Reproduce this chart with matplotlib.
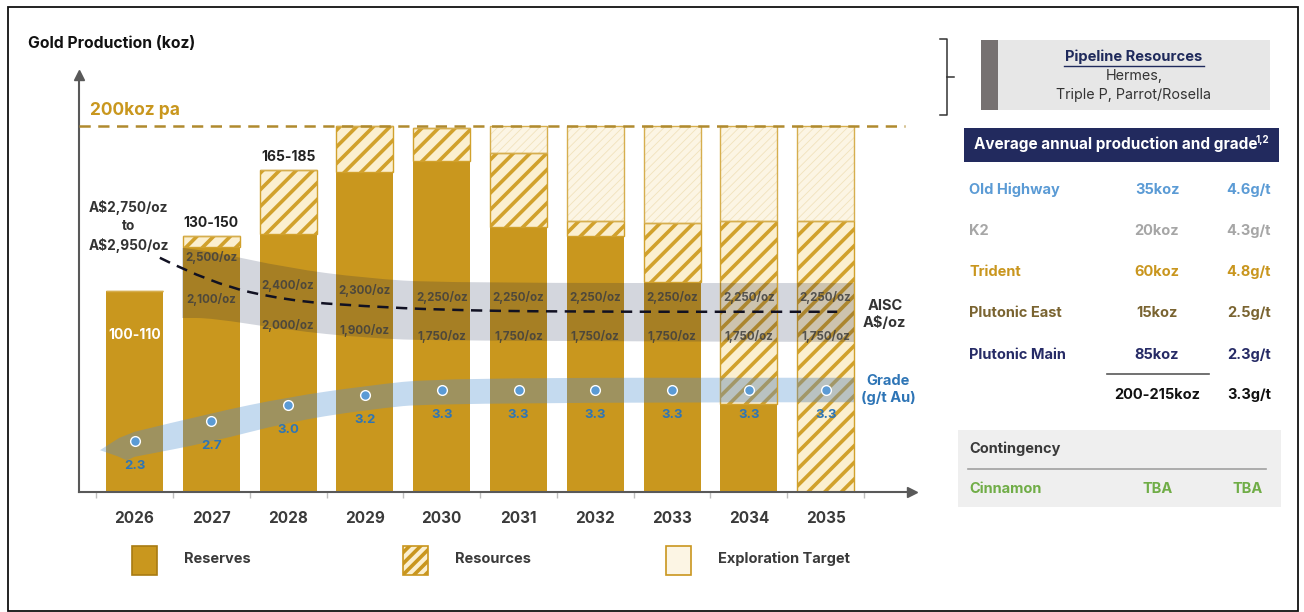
import matplotlib
matplotlib.use("Agg")
import matplotlib.pyplot as plt
from matplotlib.patches import Rectangle, PathPatch
from matplotlib.path import Path
from matplotlib.lines import Line2D

plt.rcParams['font.family'] = ['Inter', 'DejaVu Sans']
plt.rcParams['hatch.linewidth'] = 2.6

W, H = 1304, 612

# ---- data ----
years = ['2026', '2027', '2028', '2029', '2030', '2031', '2032', '2033', '2034', '2035']
reserves = [110, 134, 141, 175, 181, 145, 140, 115, 48, 0]
resources = [0, 6, 35, 25, 18, 40, 8, 32, 100, 148]
exploration = [0, 0, 0, 0, 0, 15, 52, 53, 52, 52]
bar_labels = ['100-110', '130-150', '165-185']
target_koz = 200

grade = [2.3, 2.7, 3.0, 3.2, 3.3, 3.3, 3.3, 3.3, 3.3, 3.3]

aisc_high = ['2,500/oz', '2,400/oz', '2,300/oz', '2,250/oz', '2,250/oz',
             '2,250/oz', '2,250/oz', '2,250/oz', '2,250/oz']
aisc_low = ['2,100/oz', '2,000/oz', '1,900/oz', '1,750/oz', '1,750/oz',
            '1,750/oz', '1,750/oz', '1,750/oz', '1,750/oz']
aisc_high_y = [128, 113, 110, 106.5, 106.5, 106.5, 106.5, 106.5, 106.5]
aisc_low_y = [105, 91, 88.5, 85, 85, 85, 85, 85, 85]

# AISC band (koz units) and dashed AISC trend
band_x = [0.62, 1.0, 2.0, 3.0, 4.0, 9.38]
band_top = [133.5, 131.5, 122.4, 116.9, 114.2, 114.2]
band_bot = [95.1, 95.1, 88.5, 84.2, 82.5, 82.0]
aisc_line_x = [0.33, 1.0, 2.0, 3.0, 4.0, 5.5, 9.15]
aisc_line_y = [128, 114, 104.5, 101.5, 99.5, 98.5, 98.5]

# grade band (g/t units)
gband_x = [0.0, 1.0, 2.0, 3.0, 4.0, 9.38]
gband_top = [2.48, 2.85, 3.16, 3.38, 3.54, 3.54]
gband_bot = [1.99, 2.28, 2.67, 2.91, 3.06, 3.06]

mines = ['Old Highway', 'K2', 'Trident', 'Plutonic East', 'Plutonic Main']
mine_koz = ['35koz', '20koz', '60koz', '15koz', '85koz']
mine_grade = ['4.6g/t', '4.3g/t', '4.8g/t', '2.5g/t', '2.3g/t']
mine_colors = ['#5B9BD5', '#A6A6A6', '#C9961E', '#7A6431', '#262B66']
total_koz, total_grade = '200-215koz', '3.3g/t'

GOLD = '#C9971E'
CREAM = '#FBEFCF'
PALE = '#FCF5E4'
DARK = '#3A3A3A'
BLUE = '#2E75B6'


def fx(x):
    return x / W


def fy(y):
    return 1 - y / H


def smooth(pts):
    verts = [pts[0]]
    codes = [Path.MOVETO]
    for i in range(1, len(pts) - 1):
        mid = ((pts[i][0] + pts[i + 1][0]) / 2, (pts[i][1] + pts[i + 1][1]) / 2)
        verts += [pts[i], mid]
        codes += [Path.CURVE3, Path.CURVE3]
    verts.append(pts[-1])
    codes.append(Path.LINETO)
    return verts, codes


def band_path(xs, top, bot, head=None):
    vt, ct = smooth(list(zip(xs, top)))
    vb, cb = smooth(list(zip(xs[::-1], bot[::-1])))
    cb[0] = Path.LINETO
    verts = vt + vb
    codes = ct + cb
    if head is not None:
        for p in head:
            verts.append(p)
            codes.append(Path.LINETO)
    verts.append(verts[0])
    codes.append(Path.CLOSEPOLY)
    return Path(verts, codes)


fig = plt.figure(figsize=(W / 100, H / 100), dpi=100)
ax = fig.add_axes([fx(79), fy(492), fx(912) - fx(79), fy(75) - fy(492)])
ax.set_xlim(-0.723, 10.124)
ax.set_ylim(0, 227.9)
ax2 = ax.twinx()
ax2.set_ylim(1.30, 9.476)
ax2.axis('off')

x = list(range(len(years)))
bw = 0.742
res_bottom = reserves
exp_bottom = [r + s for r, s in zip(reserves, resources)]
totals = [a + b for a, b in zip(exp_bottom, exploration)]

ax.bar(x, reserves, bw, color=GOLD, linewidth=0, zorder=2)
ax.bar(x, resources, bw, bottom=res_bottom, color=CREAM, edgecolor='#D1A12C',
       hatch='//', linewidth=0, zorder=2)
ax.bar(x, resources, bw, bottom=res_bottom, fill=False, edgecolor='#D1A12C',
       linewidth=1.0, zorder=2.1)
with plt.rc_context({'hatch.linewidth': 0.6}):
    ax.bar(x, exploration, bw, bottom=exp_bottom, color=PALE, edgecolor='#F1E2BC',
           hatch='////', linewidth=0, zorder=2)
ax.bar(x, exploration, bw, bottom=exp_bottom, fill=False, edgecolor='#D6AE4E',
       linewidth=1.0, zorder=2.1)

# clip path covering all bars
cverts, ccodes = [], []
for i, t in zip(x, totals):
    x0, x1 = i - bw / 2, i + bw / 2
    cverts += [(x0, 0), (x1, 0), (x1, t), (x0, t), (x0, 0)]
    ccodes += [Path.MOVETO, Path.LINETO, Path.LINETO, Path.LINETO, Path.CLOSEPOLY]
bar_clip = Path(cverts, ccodes)

# AISC grey band: light under the bars, darkening over them
aisc_path = band_path(band_x, band_top, band_bot)
ax.add_patch(PathPatch(aisc_path, facecolor='#D3D6DD', edgecolor='none', zorder=1))
over = PathPatch(aisc_path, facecolor='#2A2A3A', alpha=0.22, edgecolor='none', zorder=3)
ax.add_patch(over)
over.set_clip_path(bar_clip, ax.transData)

# grade blue band with arrow head at the left
gpath = band_path(gband_x, gband_top, gband_bot,
                  head=[(-0.1, 1.92), (-0.22, 2.0), (-0.45, 2.12), (-0.2, 2.36)])
ax.add_patch(PathPatch(gpath, facecolor='#C4DAEF', edgecolor='none', zorder=1,
                       transform=ax2.transData))
gover = PathPatch(gpath, facecolor='#6A8CB0', alpha=0.45, edgecolor='none', zorder=3,
                  transform=ax2.transData)
ax.add_patch(gover)
gover.set_clip_path(bar_clip, ax.transData)

# AISC dashed trend
av, ac = smooth(list(zip(aisc_line_x, aisc_line_y)))
ax.add_patch(PathPatch(Path(av, ac), facecolor='none', edgecolor='#111122', lw=1.8,
                       linestyle=(0, (4.5, 3)), zorder=4))

# 200koz target line
ax.plot([-0.723, 10.03], [target_koz, target_koz], color='#B08A2E', lw=1.8,
        linestyle=(0, (4.5, 3)), zorder=4, solid_capstyle='butt')
ax.text(-0.58, 208.5, '200koz pa', color=GOLD, fontsize=12.5,
        fontweight='bold', va='center', ha='left')

# bar labels
ax.text(0, 86, bar_labels[0], color='white', fontsize=10, fontweight='bold',
        ha='center', va='center', zorder=5)
ax.text(1, totals[1] + 3, bar_labels[1], color='#222222', fontsize=10,
        fontweight='bold', ha='center', va='bottom', zorder=5)
ax.text(2, totals[2] + 3, bar_labels[2], color='#222222', fontsize=10,
        fontweight='bold', ha='center', va='bottom', zorder=5)
ax.text(-0.08, 145, 'A$2,750/oz\nto\nA$2,950/oz', color='#333333', fontsize=9.8,
        fontweight='bold', ha='center', va='center', linespacing=1.4, zorder=5)

for i, (hi, lo, hy, ly) in enumerate(zip(aisc_high, aisc_low, aisc_high_y, aisc_low_y)):
    ax.text(i + 1, hy, hi, color='#3F3F3F', fontsize=8.3, fontweight='bold',
            ha='center', va='center', zorder=5, alpha=0.85)
    ax.text(i + 1, ly, lo, color='#3F3F3F', fontsize=8.3, fontweight='bold',
            ha='center', va='center', zorder=5, alpha=0.85)

ax.text(9.77, 97, 'AISC\nA$/oz', color='#333333', fontsize=10.5, fontweight='bold',
        ha='center', va='center', linespacing=1.3, zorder=5)
ax.text(9.81, 56, 'Grade\n(g/t Au)', color=BLUE, fontsize=10.5, fontweight='bold',
        ha='center', va='center', linespacing=1.3, zorder=5)

# grade dots and labels
ax2.plot(x, grade, 'o', color='#5B9BD5', markersize=7, markeredgecolor='white',
         markeredgewidth=1.0, zorder=6)
for i, g in enumerate(grade):
    ax2.annotate(f'{g:.1f}', (i, g), xytext=(0, -18), textcoords='offset points',
                 color=BLUE, fontsize=9.5, fontweight='bold', ha='center', va='center')

# axes styling
for s in ['top', 'right']:
    ax.spines[s].set_visible(False)
for s in ['left', 'bottom']:
    ax.spines[s].set_color('#595959')
    ax.spines[s].set_linewidth(1.5)
ax.plot([1], [0], '>', color='#595959', markersize=7, transform=ax.transAxes,
        clip_on=False)
ax.plot([0], [1], '^', color='#595959', markersize=7, transform=ax.transAxes,
        clip_on=False)
ax.set_yticks([])
ax.set_xticks(x)
ax.set_xticklabels(years, fontsize=11, fontweight='bold', color=DARK)
ax.tick_params(axis='x', length=0, pad=14)
ax.set_xticks([i - 0.5 for i in range(len(years) + 1)], minor=True)
ax.tick_params(axis='x', which='minor', length=4, color='#BFBFBF', width=1)

fig.text(fx(28), fy(43), 'Gold Production (koz)', fontsize=11.3, fontweight='bold',
         color='#111111', va='center')

# legend
leg = [('Reserves', 132, dict(facecolor=GOLD, edgecolor='#A87B12')),
       ('Resources', 403, dict(facecolor=CREAM, edgecolor='#C9961E', hatch='///')),
       ('Exploration Target', 666, dict(facecolor=PALE, edgecolor='#C9961E'))]
for name, lx, kw in leg:
    fig.add_artist(Rectangle((fx(lx), fy(575)), fx(25), fy(546) - fy(575),
                             transform=fig.transFigure, lw=1.2, **kw))
    fig.text(fx(lx + 52), fy(559), name, fontsize=10.5, fontweight='bold',
             color=DARK, va='center')

# ---- right panel ----
br = '#333333'
fig.add_artist(Line2D([fx(940), fx(947), fx(947), fx(940)],
                      [fy(39), fy(39), fy(115), fy(115)], color=br, lw=1.1))
fig.add_artist(Line2D([fx(947), fx(954)], [fy(77), fy(77)], color=br, lw=1.1))

fig.add_artist(Rectangle((fx(981), fy(110)), fx(1270 - 981), fy(40) - fy(110),
                         transform=fig.transFigure, facecolor='#E7E7E7', lw=0))
fig.add_artist(Rectangle((fx(981), fy(110)), fx(17), fy(40) - fy(110),
                         transform=fig.transFigure, facecolor='#767171', lw=0))
fig.text(fx(1134), fy(57), 'Pipeline Resources', fontsize=10.6, fontweight='bold',
         color='#1F2A5C', ha='center', va='center')
fig.add_artist(Line2D([fx(1064), fx(1204)], [fy(66), fy(66)], color='#1F2A5C', lw=1))
fig.text(fx(1134), fy(76), 'Hermes,', fontsize=10.3, color='#333333', ha='center',
         va='center')
fig.text(fx(1134), fy(95), 'Triple P, Parrot/Rosella', fontsize=10.3, color='#333333',
         ha='center', va='center')

fig.add_artist(Rectangle((fx(964), fy(162)), fx(1279 - 964), fy(128) - fy(162),
                         transform=fig.transFigure, facecolor='#222A5E', lw=0))
fig.text(fx(1258), fy(144), 'Average annual production and grade', fontsize=11,
         fontweight='bold', color='white', ha='right', va='center')
fig.text(fx(1256), fy(140), '1,2', fontsize=7, fontweight='bold', color='white',
         ha='left', va='center')

row_y = [190, 231, 272, 313, 355]
for name, koz, gr, c, ry in zip(mines, mine_koz, mine_grade, mine_colors, row_y):
    fig.text(fx(969), fy(ry), name, fontsize=10.5, fontweight='bold', color=c,
             va='center')
    fig.text(fx(1157), fy(ry), koz, fontsize=10.5, fontweight='bold', color=c,
             va='center', ha='center')
    fig.text(fx(1271), fy(ry), gr, fontsize=10.5, fontweight='bold', color=c,
             va='center', ha='right')
fig.add_artist(Line2D([fx(1107), fx(1209)], [fy(374), fy(374)], color='#595959', lw=1.2))
fig.text(fx(1157), fy(395), total_koz, fontsize=10.5, fontweight='bold', color='#111111',
         va='center', ha='center')
fig.text(fx(1271), fy(395), total_grade, fontsize=10.5, fontweight='bold',
         color='#111111', va='center', ha='right')

fig.add_artist(Rectangle((fx(958), fy(507)), fx(1281 - 958), fy(430) - fy(507),
                         transform=fig.transFigure, facecolor='#EFEFEF', lw=0))
fig.text(fx(969), fy(449), 'Contingency', fontsize=10.5, fontweight='bold',
         color='#3A3A3A', va='center')
fig.add_artist(Line2D([fx(968), fx(1266)], [fy(469), fy(469)], color='#A0A0A0', lw=1.2))
fig.text(fx(969), fy(489), 'Cinnamon', fontsize=10.5, fontweight='bold', color='#70AD47',
         va='center')
fig.text(fx(1158), fy(489), 'TBA', fontsize=10.5, fontweight='bold', color='#70AD47',
         va='center', ha='center')
fig.text(fx(1263), fy(489), 'TBA', fontsize=10.5, fontweight='bold', color='#70AD47',
         va='center', ha='right')

# outer frame
fig.add_artist(Rectangle((fx(8), fy(611)), fx(1298 - 8), fy(7) - fy(611),
                         transform=fig.transFigure, fill=False, edgecolor='#111111',
                         lw=1.3))

fig.savefig('out.png', dpi=100)
